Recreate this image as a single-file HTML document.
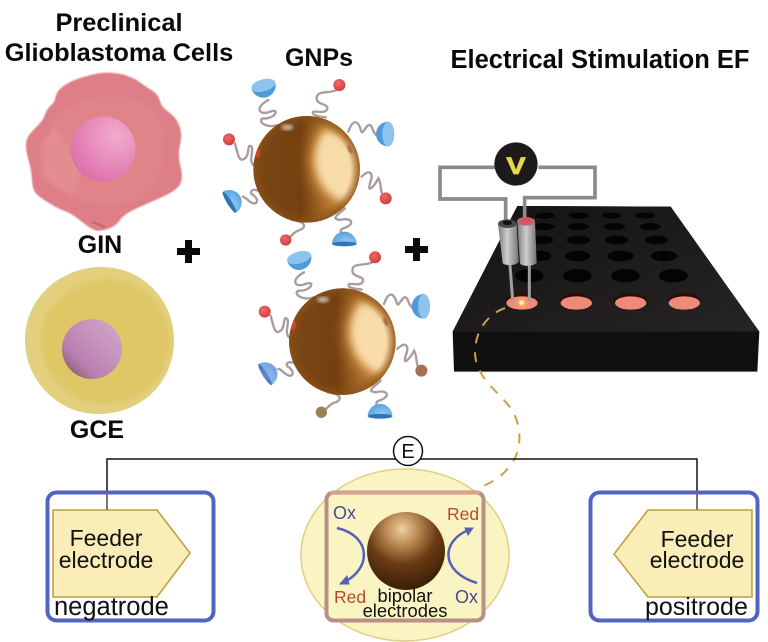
<!DOCTYPE html>
<html><head><meta charset="utf-8"><style>
html,body{margin:0;padding:0;background:#fff;width:768px;height:642px;overflow:hidden}
svg{display:block}
text{font-family:"Liberation Sans",Arial,sans-serif}
.t{font-weight:bold;fill:#0a0a0a}
</style></head><body>
<svg width="768" height="642" viewBox="0 0 768 642" xmlns="http://www.w3.org/2000/svg">
<defs>
<filter id="b1"><feGaussianBlur stdDeviation=".7"/></filter>
<filter id="b2"><feGaussianBlur stdDeviation="2"/></filter>
<filter id="b12" x="-40%" y="-40%" width="180%" height="180%"><feGaussianBlur stdDeviation="12"/></filter>
<filter id="b20" x="-40%" y="-40%" width="180%" height="180%"><feGaussianBlur stdDeviation="22"/></filter>
<filter id="b5"><feGaussianBlur stdDeviation="5"/></filter>
<radialGradient id="pn" cx="70%" cy="30%" r="80%"><stop offset="0" stop-color="#f2accf"/><stop offset="1" stop-color="#dc6ea8"/></radialGradient>
<linearGradient id="yn" x1="0" y1="1" x2="1" y2="0"><stop offset="0" stop-color="#7a4e50"/><stop offset=".3" stop-color="#b880b0"/><stop offset="1" stop-color="#d6aacc"/></linearGradient>
<linearGradient id="au" x1="0" x2="1" y1="0" y2="0"><stop offset="0" stop-color="#7c4716"/><stop offset=".45" stop-color="#74400f"/><stop offset=".65" stop-color="#a06525"/><stop offset="1" stop-color="#c08238"/></linearGradient>
<radialGradient id="rim" cx="50%" cy="50%" r="50%"><stop offset=".82" stop-color="#8a5018" stop-opacity="0"/><stop offset="1" stop-color="#8a5018" stop-opacity=".75"/></radialGradient>
<radialGradient id="red" cx="40%" cy="35%" r="70%"><stop offset="0" stop-color="#ee6a66"/><stop offset="1" stop-color="#cf3b40"/></radialGradient>
<radialGradient id="blue" cx="40%" cy="30%" r="80%"><stop offset="0" stop-color="#8cc8f0"/><stop offset="1" stop-color="#4c9ad8"/></radialGradient>
<radialGradient id="bs" cx="45%" cy="22%" r="75%"><stop offset="0" stop-color="#edd0a0"/><stop offset=".28" stop-color="#b98a52"/><stop offset=".6" stop-color="#6a3c14"/><stop offset="1" stop-color="#3c2008"/></radialGradient>
<linearGradient id="top" x1="0" y1="0" x2="1" y2="1"><stop offset="0" stop-color="#141212"/><stop offset="1" stop-color="#262424"/></linearGradient>
<linearGradient id="cyl" x1="0" x2="1" y1="0" y2="0"><stop offset="0" stop-color="#7c7a7a"/><stop offset=".45" stop-color="#cfcdce"/><stop offset="1" stop-color="#747273"/></linearGradient>
<clipPath id="auc"><circle cx="290" cy="388" r="160"/></clipPath>
<g id="cupA">
<path d="M-37,0 A37,37 0 0 0 37,0 Z" fill="#4f9ad8"/>
<ellipse cx="0" cy="0" rx="37" ry="18" fill="#8cc4ee"/>
</g>
<g id="cupB">
<path d="M-37,0 A37,37 0 0 0 37,0 Z" fill="url(#blue)"/>
<ellipse cx="0" cy="0" rx="37" ry="7" fill="#2f74b4"/>
</g>
<g id="gnpbase">
<g fill="none" stroke="#a99c9e" stroke-width="7" stroke-linecap="round">
<path d="M175,180 C130,205 150,228 180,215 C212,203 195,238 160,235 C140,240 165,268 205,255"/>
<path d="M380,150 C355,162 320,150 320,175 C320,197 362,190 350,210 C340,225 300,205 310,222 C315,230 340,230 348,232"/>
<path d="M415,275 C430,232 445,245 452,268 C458,298 470,238 485,260 C490,275 495,285 507,292"/>
<path d="M75,310 C85,350 88,368 105,355 C120,345 110,308 125,320 C132,332 115,360 130,375"/>
<path d="M455,410 C480,385 492,400 480,430 C470,465 495,435 505,415 C515,430 510,460 520,465"/>
<path d="M405,505 C385,525 360,535 390,540 C430,530 435,555 400,565 C385,570 395,585 400,590"/>
<path d="M245,540 C285,545 292,560 270,570 C250,575 250,585 238,592"/>
<path d="M150,455 C125,440 115,460 130,465 C150,480 140,500 120,485 C110,478 105,470 98,470"/>
</g>
<circle cx="388" cy="135" r="18" fill="url(#red)"/>
<circle cx="57" cy="298" r="18" fill="url(#red)"/>
<use href="#cupA" transform="translate(160,136) rotate(-15)"/>
<use href="#cupA" transform="translate(535,282) rotate(90)"/>
<circle cx="290" cy="388" r="160" fill="url(#au)"/>
<g clip-path="url(#auc)">
<path d="M345,250 C290,310 280,400 340,465 C370,495 410,520 450,500 L480,400 L450,290 L400,240 Z" fill="#d08f42" filter="url(#b20)"/>
<path d="M345,272 C310,315 300,385 345,445 C365,470 390,488 415,478 C440,450 448,400 440,350 C425,310 390,280 345,272 Z" fill="#f8dcaa" filter="url(#b12)"/>
<circle cx="290" cy="388" r="160" fill="url(#rim)"/>
<ellipse cx="232" cy="262" rx="18" ry="9" fill="#bfb0a0" filter="url(#b5)"/>
<ellipse cx="142" cy="338" rx="8" ry="16" fill="#d84428" filter="url(#b2)"/>
<ellipse cx="420" cy="328" rx="6" ry="14" fill="#a87040" transform="rotate(-25 420 328)" filter="url(#b2)"/>
</g>
</g>
</defs>
<rect width="768" height="642" fill="#fff"/>

<!-- Titles -->
<text class="t" x="119" y="31" text-anchor="middle" font-size="25.400">Preclinical</text>
<text class="t" x="119" y="61" text-anchor="middle" font-size="25.400">Glioblastoma Cells</text>
<text class="t" x="319" y="66" text-anchor="middle" font-size="25">GNPs</text>
<text class="t" x="600" y="68" text-anchor="middle" font-size="25.500">Electrical Stimulation EF</text>

<!-- Pink cell -->
<path d="M117.500,75 Q105,73 95,75.500 Q85,78 77.500,80.500 Q70,83 64,87.500 Q58,92 57,97.500 Q56,103 52,106.500 Q48,110 46,116 Q44,122 36,129.500 Q28,137 27.500,143.500 Q27,150 30,160 Q33,170 33.500,180 Q34,190 38,193.500 Q42,197 51,202.500 Q60,208 66,210 Q72,212 82,220 Q92,228 96,229 Q100,230 107.500,227.500 Q115,225 118.500,219.500 Q122,214 131,209.500 Q140,205 157.500,197.500 Q175,190 178.500,184 Q182,178 179,166.500 Q176,155 178.500,145 Q181,135 178,126.500 Q175,118 167.500,113 Q160,108 158.500,101.500 Q157,95 151,91.500 Q145,88 137.500,82.500 Q130,77 117.500,75 Z" fill="#de7e86" stroke="#de7e86" stroke-width="3" stroke-linejoin="round" filter="url(#b1)"/>
<path d="M60,112 C90,92 130,88 155,112 C172,135 165,185 140,200 C105,212 70,205 50,180 C42,155 45,130 60,112 Z" fill="#e28a8e" opacity=".55" filter="url(#b2)"/>
<path d="M42,178 L72,195 L82,170 L55,128 L40,145 Z" fill="#eaa0a0" opacity=".35" filter="url(#b2)"/>
<path d="M92,222 L105,227" stroke="#b85a66" stroke-width="2" opacity=".7"/>
<circle cx="103" cy="149" r="32.500" fill="url(#pn)"/>
<text class="t" x="100" y="253" text-anchor="middle" font-size="25">GIN</text>

<!-- Plus -->
<path d="M177,248h23v7h-23zM185,240h7v23h-7z" fill="#0a0a0a"/>
<path d="M405,246h23v7h-23zM413,238h7v23h-7z" fill="#0a0a0a"/>

<!-- Yellow cell -->
<path d="M100,267 C140,266 174,298 174,340 C174,384 140,414 98,414 C58,414 25,380 25,340 C25,300 58,268 100,267 Z" fill="#e2d07e"/>
<path d="M105,279 C145,278 172,310 170,345 C166,385 135,407 95,404 C65,398 42,375 41,340 C40,305 70,284 105,279 Z" fill="#dfc766" filter="url(#b2)"/>
<circle cx="92" cy="349" r="30" fill="url(#yn)"/>
<text class="t" x="97" y="438" text-anchor="middle" font-size="25">GCE</text>

<!-- GNPs -->
<g transform="translate(210,40) scale(.33333)">
<use href="#gnpbase"/>
<circle cx="527" cy="475" r="18" fill="url(#red)"/>
<circle cx="227" cy="600" r="17" fill="url(#red)"/>
<use href="#cupB" transform="translate(58,487) rotate(-122)"/>
<use href="#cupB" transform="translate(403,612) rotate(180)"/>
</g>
<g transform="translate(245.700,212.300) scale(.33333)">
<use href="#gnpbase"/>
<circle cx="527" cy="475" r="18" fill="#a8705a"/>
<circle cx="227" cy="600" r="17" fill="#9a8258"/>
<g opacity=".92"><use href="#cupB" transform="translate(58,487) rotate(-122)"/></g>
<use href="#cupB" transform="translate(403,612) rotate(180)"/>
<ellipse cx="72" cy="480" rx="24" ry="24" fill="#8a90e0" opacity=".4"/>
</g>

<!-- Plate -->
<g transform="translate(430,130) scale(.33333)">
<path d="M262,228 L722,230 L988,605 L982,725 L72,725 L68,605 Z" fill="#111010"/>
<path d="M262,228 L722,230 L988,605 L68,605 Z" fill="url(#top)"/>
<g fill="#040404">
<ellipse cx="345" cy="257" rx="30" ry="9"/><ellipse cx="447" cy="257" rx="30" ry="9"/><ellipse cx="545" cy="257" rx="30" ry="9"/><ellipse cx="645" cy="257" rx="30" ry="9"/>
<ellipse cx="340" cy="290" rx="32" ry="11"/><ellipse cx="445" cy="290" rx="32" ry="11"/><ellipse cx="553" cy="290" rx="32" ry="11"/><ellipse cx="660" cy="290" rx="32" ry="11"/>
<ellipse cx="335" cy="330" rx="35" ry="13"/><ellipse cx="445" cy="330" rx="35" ry="13"/><ellipse cx="560" cy="330" rx="35" ry="13"/><ellipse cx="680" cy="330" rx="35" ry="13"/>
<ellipse cx="325" cy="378" rx="38" ry="16"/><ellipse cx="443" cy="378" rx="38" ry="16"/><ellipse cx="572" cy="378" rx="39" ry="16"/><ellipse cx="702" cy="378" rx="39" ry="16"/>
<ellipse cx="298" cy="437" rx="43" ry="20"/><ellipse cx="442" cy="437" rx="43" ry="20"/><ellipse cx="586" cy="437" rx="43" ry="20"/><ellipse cx="730" cy="437" rx="44" ry="20"/>
</g>
<g fill="#2a0d0b">
<ellipse cx="276" cy="514" rx="49" ry="25"/><ellipse cx="439" cy="514" rx="49" ry="25"/><ellipse cx="602" cy="514" rx="49" ry="25"/><ellipse cx="763" cy="514" rx="49" ry="25"/>
</g>
<g fill="#f08a78">
<ellipse cx="276" cy="519" rx="47" ry="20"/><ellipse cx="439" cy="519" rx="47" ry="20"/><ellipse cx="602" cy="519" rx="47" ry="20"/><ellipse cx="763" cy="519" rx="47" ry="20"/>
</g>
<!-- wires -->
<path d="M195,112 H30 V207 H227 V272" fill="none" stroke="#8c8a8a" stroke-width="11"/>
<path d="M325,112 H495 V203 H284 V272" fill="none" stroke="#8c8a8a" stroke-width="11"/>
<circle cx="258" cy="102" r="65" fill="#1c1a1a"/>
<!-- electrodes -->
<path d="M240,405 L248,512" stroke="#a09e9e" stroke-width="9"/>
<path d="M298,405 L298,512" stroke="#a09e9e" stroke-width="9"/>
<path d="M204,282 L260,280 L266,396 C255,408 228,408 218,400 Z" fill="url(#cyl)"/>
<ellipse cx="232" cy="281" rx="28" ry="13" fill="#4a4a4a"/>
<ellipse cx="232" cy="278" rx="14" ry="7" fill="#111"/>
<path d="M262,275 L315,272 L320,398 C310,410 282,410 270,402 Z" fill="url(#cyl)"/>
<ellipse cx="288" cy="274" rx="27" ry="13" fill="#b46a6a"/>
<ellipse cx="288" cy="271" rx="15" ry="8" fill="#ea4a58"/>
<circle cx="275" cy="518" r="16" fill="#ffb060" opacity=".75" filter="url(#b5)"/>
<circle cx="275" cy="518" r="7" fill="#fff6d8"/>
</g>
<text transform="translate(516,174) scale(1.2,1)" text-anchor="middle" font-size="24" font-weight="bold" fill="#e8d84c" stroke="#e8d84c" stroke-width=".8">V</text>

<!-- Dashed link -->
<path d="M505,308 C488,314 476,330 475,350 C474,378 500,392 512,410 C521,425 522,445 514,460 C505,475 492,483 478,488" fill="none" stroke="#c8a23e" stroke-width="2" stroke-dasharray="10 9"/>

<!-- E bar -->
<path d="M107,510 V459 H697 V510" fill="none" stroke="#111" stroke-width="1.500"/>
<circle cx="408" cy="451" r="14.500" fill="#fff" stroke="#111" stroke-width="1.500"/>
<text x="408" y="458" text-anchor="middle" font-size="20" fill="#111">E</text>

<!-- Left -->
<rect x="47.500" y="492.500" width="166" height="128" rx="9" fill="none" stroke="#5364c0" stroke-width="4"/>
<path d="M53,510 H157 L190,553 L157,597 H53 Z" fill="#fbedb8" stroke="#bd9d3e" stroke-width="1.500"/>
<path d="M107,492 V510" stroke="#8a6060" stroke-width="1.200"/>
<text x="106" y="546" text-anchor="middle" font-size="23" fill="#111">Feeder</text>
<text x="106" y="568" text-anchor="middle" font-size="23" fill="#111">electrode</text>
<text x="54" y="615" font-size="25.500" fill="#111">negatrode</text>

<!-- Centre -->
<ellipse cx="405" cy="555" rx="104" ry="86" fill="#faf3c2" stroke="#dfcf82" stroke-width="1.500"/>
<rect x="326.500" y="492.500" width="157" height="128" rx="7" fill="#faf3c2" stroke="#b89088" stroke-width="4"/>
<path d="M330,492.500 H480" stroke="#dba090" stroke-width="3"/>
<circle cx="406" cy="551" r="39" fill="url(#bs)"/>
<path d="M337,528 C372,536 372,570 342,583" fill="none" stroke="#5560b8" stroke-width="2.500"/>
<path d="M340,584 L347,576 L349,584 Z" fill="#5560b8" stroke="#5560b8"/>
<path d="M477,583 C440,572 440,540 471,529" fill="none" stroke="#5560b8" stroke-width="2.500"/>
<path d="M473,528 L465,528 L468,535 Z" fill="#5560b8" stroke="#5560b8"/>
<text x="333" y="519" font-size="18" fill="#4a4a9a">Ox</text>
<text x="447" y="520" font-size="17.500" fill="#b84a30">Red</text>
<text x="334" y="603" font-size="17.500" fill="#b84a30">Red</text>
<text x="455" y="603" font-size="18" fill="#4a4a9a">Ox</text>
<text x="405" y="602" text-anchor="middle" font-size="18.300" fill="#111">bipolar</text>
<text x="405" y="617" text-anchor="middle" font-size="18.400" fill="#111">electrodes</text>

<!-- Right -->
<rect x="590.500" y="492.500" width="167" height="128" rx="9" fill="none" stroke="#5364c0" stroke-width="4"/>
<path d="M752,510 H648 L614,554 L648,597 H752 Z" fill="#fbedb8" stroke="#bd9d3e" stroke-width="1.500"/>
<path d="M697,492 V510" stroke="#8a6060" stroke-width="1.200"/>
<text x="697" y="547" text-anchor="middle" font-size="23" fill="#111">Feeder</text>
<text x="697" y="568" text-anchor="middle" font-size="23" fill="#111">electrode</text>
<text x="645" y="615" font-size="25" fill="#111">positrode</text>
</svg>
</body></html>
